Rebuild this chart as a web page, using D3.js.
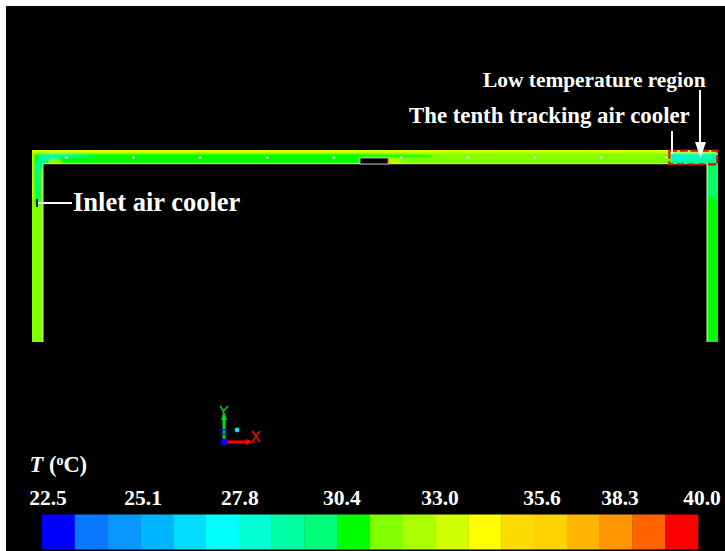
<!DOCTYPE html>
<html><head><meta charset="utf-8">
<script src="https://cdn.jsdelivr.net/npm/d3@7"></script>
<style>html,body{margin:0;padding:0;background:#fff;overflow:hidden}svg{display:block}text{font-family:"Liberation Serif",serif;font-weight:bold;fill:#fff}</style>
</head><body><svg id="c" width="725" height="551"></svg>
<script>
// temperature legend
const bandColors=["#0000ff","#0a78ff","#0a96ff","#00b4ff","#00dcff","#00ffff","#00ffd2","#00ffa5","#00ff78","#00ff00","#82ff00","#aaff00","#d2ff00","#ffff00","#ffdc00","#ffd200","#ffb400","#ff9600","#ff6400","#ff0000"];
const tickLabels=["22.5","25.1","27.8","30.4","33.0","35.6","38.3","40.0"];
const tickBands=[0,2.9,5.85,8.96,11.95,15.06,17.44,19.94];
// model geometry (x along the roadway 0-100, y up from the leg ends 0-28)
const ductSolid=[[0,0,1.6,28],[0,26,100,28],[98.4,0,100,28]];
// field patches: polygon in model units, temperature band
const fieldPatches=[
 {pts:[[4,26],[48,26],[48,27.6],[4.5,27.6]],band:9},
 {pts:[[48,26.9],[58,27],[58.5,27.25],[48,27.6]],band:9},
 {pts:[[0.45,20],[1.25,20],[1.3,25],[2,25.9],[4,26],[5,27.6],[0.3,27.6],[0.25,25]],band:9},
 {pts:[[0.7,20],[0.95,20],[1,25],[1.4,26.3],[4,26.9],[10,27.1],[4,27.4],[1,27.2],[0.6,25.5]],band:7},
 {pts:[[0.7,23],[0.9,23],[1,25.5],[1.6,26.6],[4,27.1],[1.2,27.1],[0.8,26]],band:6.5},
 {pts:[[2.2,26],[4.5,26],[4,26.6],[2.8,26.6]],band:10.5},
 {pts:[[52,26],[55,26],[52.5,26.7],[52,26.7]],band:11.5},
 {pts:[[0,27.6],[100,27.6],[100,28.5],[0,28.5]],band:12.5},
 {pts:[[-0.5,21],[0.15,21],[0.15,28],[-0.5,28]],band:11.5},
 {pts:[[93.2,26],[100.5,26],[100.5,27.6],[93.2,27.6]],band:7.5},
 {pts:[[93.4,26.4],[97,26.4],[99.5,26.9],[99,27.3],[93.4,27.3]],band:6.5},
 {pts:[[93.4,26.7],[96,26.9],[93.4,27.3]],band:4.5},
 {pts:[[98.4,-0.5],[100.5,-0.5],[100.5,26],[98.4,26]],band:9},
 {pts:[[98.4,21],[100.5,21],[100.5,26],[98.4,26]],band:8.2}
];
const baseBand=10;
const ductEdges=[[[1.6,0],[1.6,26],[47.8,26]],[[52,26],[98.4,26],[98.4,0]]];
const coolerStations=[5,14.8,24.5,34.3,44,53.8,63.5,73.3,83,92.5];
const fanBlock=[47.8,25.95,52,26.85];
const regionBox=[92.9,25.9,99.9,27.9];
const W=725,H=551;
const svg=d3.select("#c");
svg.append("rect").attr("x",6).attr("y",6).attr("width",W-6).attr("height",H-6).attr("fill","#000");
const x=d3.scaleLinear().domain([0,100]).range([32,718]);
const y=d3.scaleLinear().domain([0,28]).range([342,150]);
const mix=b=>{const a=bandColors[Math.floor(b)],c=bandColors[Math.ceil(b)];return d3.interpolateRgb(a,c)(b-Math.floor(b));};
const defs=svg.append("defs");
const f=defs.append("filter").attr("id","soft").attr("filterUnits","userSpaceOnUse").attr("x",0).attr("y",100).attr("width",W).attr("height",300);
f.append("feGaussianBlur").attr("stdDeviation",0.8);
const clip=defs.append("clipPath").attr("id","duct");
ductSolid.forEach(d=>clip.append("rect").attr("x",x(d[0])).attr("y",y(d[3])).attr("width",x(d[2])-x(d[0])).attr("height",y(d[1])-y(d[3])));
const line=d3.line().x(d=>x(d[0])).y(d=>y(d[1]));
const field=svg.append("g").attr("clip-path","url(#duct)");
field.selectAll("rect").data(ductSolid).join("rect").attr("x",d=>x(d[0])).attr("y",d=>y(d[3])).attr("width",d=>x(d[2])-x(d[0])).attr("height",d=>y(d[1])-y(d[3])).attr("fill",bandColors[baseBand]);
const gf=field.append("g").attr("filter","url(#soft)");
gf.selectAll("path").data(fieldPatches).join("path").attr("d",d=>line(d.pts)+"Z").attr("fill",d=>mix(d.band));
svg.selectAll(".edge").data(ductEdges).join("path").attr("class","edge").attr("d",d=>line(d)).attr("fill","none").attr("stroke","#e4f0b8").attr("stroke-width",1);
// tracking cooler stations
svg.selectAll(".st").data(coolerStations).join("rect").attr("class","st").attr("x",d=>x(d)-1.5).attr("y",y(27.05)).attr("width",3).attr("height",2).attr("fill","#d8f0c8");
// fan block
const fb=svg.append("g");
fb.append("rect").attr("x",x(fanBlock[0])).attr("y",y(fanBlock[3])).attr("width",x(fanBlock[2])-x(fanBlock[0])).attr("height",y(fanBlock[1])-y(fanBlock[3])).attr("fill","#000").attr("stroke","#ccc").attr("stroke-width",1);
fb.append("rect").attr("x",x(fanBlock[2])-1).attr("y",y(fanBlock[3])).attr("width",2).attr("height",y(fanBlock[1])-y(fanBlock[3])).attr("fill","#f0a020");
// colour bar
const cb=d3.scaleBand().domain(d3.range(bandColors.length)).range([42,698]).paddingInner(0);
svg.selectAll(".sw").data(bandColors).join("rect").attr("class","sw").attr("x",(d,i)=>cb(i)).attr("y",514.5).attr("width",cb.bandwidth()+.3).attr("height",35).attr("fill",d=>d);
svg.selectAll(".tick").data(tickLabels).join("text").attr("class","tick").attr("x",(d,i)=>cb(0)+cb.step()*tickBands[i]+6).attr("y",505).attr("text-anchor","middle").attr("font-size",21.5).text(d=>d);
const title=svg.append("text").attr("x",29.5).attr("y",472).attr("font-size",22.5);
title.append("tspan").attr("font-style","italic").text("T");
title.append("tspan").text(" (");
title.append("tspan").attr("font-size",14).attr("dy",-7).text("o");
title.append("tspan").attr("dy",7).text("C)");
// annotations
const white=(x1,y1,x2,y2,w)=>svg.append("line").attr("x1",x1).attr("y1",y1).attr("x2",x2).attr("y2",y2).attr("stroke","#fff").attr("stroke-width",w||2);
svg.append("rect").attr("x",36).attr("y",199).attr("width",2).attr("height",8).attr("fill","#102010");
white(38,203,72,203,2);
svg.append("text").attr("x",73).attr("y",211).attr("font-size",26.5).text("Inlet air cooler");
svg.append("text").attr("x",483).attr("y",87).attr("font-size",21.4).text("Low temperature region");
svg.append("text").attr("x",409).attr("y",123).attr("font-size",22.8).text("The tenth tracking air cooler");
svg.append("rect").attr("x",x(regionBox[0])).attr("y",y(regionBox[3])).attr("width",x(regionBox[2])-x(regionBox[0])).attr("height",y(regionBox[1])-y(regionBox[3])).attr("fill","none").attr("stroke","#d81010").attr("stroke-width",2.2).attr("stroke-dasharray","8 2.5");
white(672,131,672,154,2);
white(700,90,700,143,2);
svg.append("path").attr("d",d3.line()([[695,142],[706,142],[700.5,158]])+"Z").attr("fill","#fff");
// triad
const tri=svg.append("g");
const tl=(a,b,c,d,col,w)=>tri.append("line").attr("x1",a).attr("y1",b).attr("x2",c).attr("y2",d).attr("stroke",col).attr("stroke-width",w);
tl(224,442,224,415,"#00e000",3);tl(224,442,250,442,"#ff0000",3);
tri.append("path").attr("d","M224,412L221,420L227,420Z").attr("fill","#00e000");
tri.append("path").attr("d","M253,442L246,439L246,445Z").attr("fill","#ff0000");
tri.append("path").attr("d","M220,430H228M220,434H228").attr("stroke","#1010e0").attr("stroke-width",1.5);
tri.append("circle").attr("cx",224).attr("cy",442).attr("r",3.5).attr("fill","#0000ff");
tri.append("circle").attr("cx",237).attr("cy",430).attr("r",2.4).attr("fill","#10e0e0");
tri.append("path").attr("d","M220,406L223.5,411M228,406L223.5,411M223.5,411L223.5,416").attr("stroke","#10c030").attr("stroke-width",1.6).attr("fill","none");
tri.append("path").attr("d","M252,431L260,442M260,431L252,442").attr("stroke","#ff0000").attr("stroke-width",1.6).attr("fill","none");
</script></body></html>
